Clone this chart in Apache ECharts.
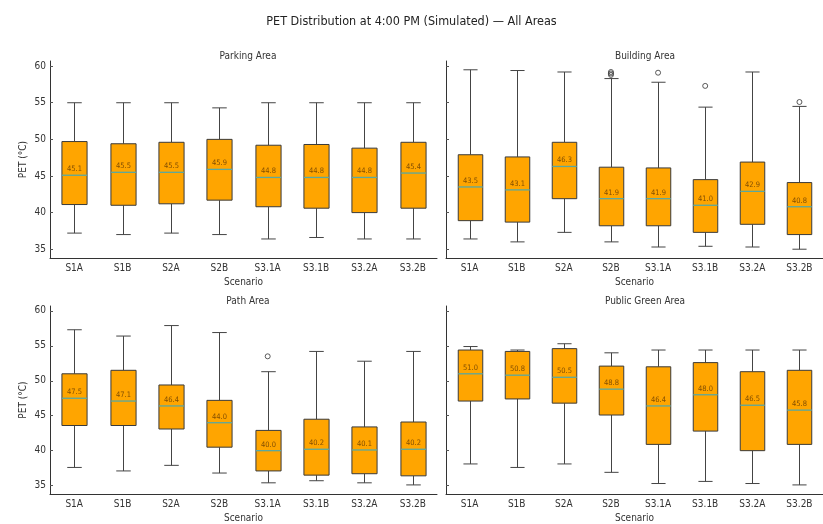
<!DOCTYPE html>
<html>
<head>
<meta charset="utf-8">
<script src="https://cdn.jsdelivr.net/npm/echarts@6/dist/echarts.min.js"></script>
<style>
html,body{margin:0;padding:0;background:#fff;}
#chart{width:823px;height:524px;}
</style>
</head>
<body>
<div id="chart"></div>
<script>
const categories = ['S1A','S1B','S2A','S2B','S3.1A','S3.1B','S3.2A','S3.2B'];
const yTicks = [35,40,45,50,55,60];

// [min, Q1, median, Q3, max] per scenario
const parkingStats = [
  [37.2, 41.1, 45.1, 49.7, 55.0],
  [37.0, 41.0, 45.5, 49.4, 55.0],
  [37.2, 41.2, 45.5, 49.6, 55.0],
  [37.0, 41.7, 45.9, 50.0, 54.3],
  [36.4, 40.8, 44.8, 49.2, 55.0],
  [36.6, 40.6, 44.8, 49.3, 55.0],
  [36.4, 40.0, 44.8, 48.8, 55.0],
  [36.4, 40.6, 45.4, 49.6, 55.0]
];
const buildingStats = [
  [36.4, 38.9, 43.5, 47.9, 59.5],
  [36.0, 38.7, 43.1, 47.6, 59.4],
  [37.3, 41.9, 46.3, 49.6, 59.2],
  [36.0, 38.2, 41.9, 46.2, 58.3],
  [35.3, 38.2, 41.9, 46.1, 57.8],
  [35.4, 37.3, 41.0, 44.5, 54.4],
  [35.3, 38.4, 42.9, 46.9, 59.2],
  [35.0, 37.0, 40.8, 44.1, 54.5]
];
const pathStats = [
  [37.6, 43.6, 47.5, 51.0, 57.3],
  [37.1, 43.6, 47.1, 51.5, 56.4],
  [37.9, 43.1, 46.4, 49.4, 57.9],
  [36.8, 40.5, 44.0, 47.2, 56.9],
  [35.4, 37.1, 40.0, 42.9, 51.3],
  [35.7, 36.5, 40.2, 44.5, 54.2],
  [35.4, 36.7, 40.1, 43.4, 52.8],
  [35.1, 36.4, 40.2, 44.1, 54.2]
];
const greenStats = [
  [38.1, 47.1, 51.0, 54.4, 54.9],
  [37.6, 47.4, 50.8, 54.2, 54.4],
  [38.1, 46.8, 50.5, 54.6, 55.3],
  [36.9, 45.1, 48.8, 52.1, 54.0],
  [35.3, 40.9, 46.4, 52.0, 54.4],
  [35.6, 42.8, 48.0, 52.6, 54.4],
  [35.3, 40.0, 46.5, 51.3, 54.4],
  [35.1, 40.9, 45.8, 51.5, 54.4]
];
// [scenario index, value]
const parkingOutliers = [];
const buildingOutliers = [[3, 58.8], [3, 59.0], [3, 59.2], [4, 59.1], [5, 57.3], [7, 55.1]];
const pathOutliers = [[4, 53.5]];
const greenOutliers = [];

const panelTitles = ['Parking Area', 'Building Area', 'Path Area', 'Public Green Area'];
const mainTitle = 'PET Distribution at 4:00 PM (Simulated) \u2014 All Areas';

const FONT = '"DejaVu Sans Condensed", "DejaVu Sans", sans-serif';
const TXT = '#333';
const Y_MIN = 33.8, Y_MAX = 60.7;

const grids = [
  {left: 50, top: 61, width: 387, height: 197},
  {left: 446, top: 61, width: 388, height: 197},
  {left: 50, top: 306, width: 387, height: 197},
  {left: 446, top: 306, width: 388, height: 197}
];
const titlePos = [
  {left: 243, top: 46}, {left: 640, top: 46}, {left: 243, top: 291}, {left: 640, top: 291}
];

function renderBox(params, api) {
  const i = api.value(0);
  const lo = api.coord([i, api.value(1)]);
  const q1 = api.coord([i, api.value(2)]);
  const med = api.coord([i, api.value(3)]);
  const q3 = api.coord([i, api.value(4)]);
  const hi = api.coord([i, api.value(5)]);
  const band = api.size([1, 0])[0];
  const bw = band * 0.52;
  const cw = band * 0.3;
  const cx = Math.round(lo[0]) + 0.5;
  const ln = {stroke: '#444', lineWidth: 1};
  return {
    type: 'group',
    children: [
      {type: 'line', shape: {x1: cx, y1: lo[1], x2: cx, y2: q1[1]}, style: ln},
      {type: 'line', shape: {x1: cx, y1: q3[1], x2: cx, y2: hi[1]}, style: ln},
      {type: 'line', shape: {x1: cx - cw / 2, y1: lo[1], x2: cx + cw / 2, y2: lo[1]}, style: ln},
      {type: 'line', shape: {x1: cx - cw / 2, y1: hi[1], x2: cx + cw / 2, y2: hi[1]}, style: ln},
      {type: 'rect', shape: {x: cx - bw / 2, y: q3[1], width: bw, height: q1[1] - q3[1]},
        style: {fill: '#FFA500', stroke: '#3a3a3a', lineWidth: 1}},
      {type: 'line', shape: {x1: cx - bw / 2, y1: med[1], x2: cx + bw / 2, y2: med[1]},
        style: {stroke: '#5aa89f', lineWidth: 1.3}},
      {type: 'text', style: {text: api.value(3).toFixed(1), x: cx, y: med[1] - 6,
        align: 'center', verticalAlign: 'middle', fontSize: 7.5, fontFamily: FONT,
        fill: 'rgba(110,65,0,0.85)'}}
    ]
  };
}

const allStats = [parkingStats, buildingStats, pathStats, greenStats];
const allOutliers = [parkingOutliers, buildingOutliers, pathOutliers, greenOutliers];

const option = {
  backgroundColor: '#fff',
  animation: false,
  title: [{text: mainTitle, left: 'center', top: 10,
    textStyle: {fontSize: 12.5, fontWeight: 'normal', color: '#222', fontFamily: FONT}}]
    .concat(panelTitles.map((t, k) => ({text: t, left: titlePos[k].left, top: titlePos[k].top,
      textAlign: 'center',
      textStyle: {fontSize: 10, fontWeight: 'normal', color: TXT, fontFamily: FONT}}))),
  grid: grids,
  xAxis: grids.map((g, k) => ({
    type: 'category', gridIndex: k, data: categories,
    name: 'Scenario', nameLocation: 'middle', nameGap: 19,
    nameTextStyle: {fontSize: 10, color: TXT, fontFamily: FONT},
    axisLine: {lineStyle: {color: '#333', width: 1}},
    axisTick: {inside: true, length: 3, alignWithLabel: true, lineStyle: {color: '#555'}},
    axisLabel: {fontSize: 10, color: TXT, fontFamily: FONT, margin: 5, interval: 0},
    splitLine: {show: false}
  })),
  yAxis: grids.map((g, k) => ({
    type: 'value', gridIndex: k, min: Y_MIN, max: Y_MAX,
    name: (k % 2 === 0) ? 'PET (\u00b0C)' : '', nameLocation: 'middle', nameGap: 22,
    nameTextStyle: {fontSize: 10, color: TXT, fontFamily: FONT},
    axisLine: {show: true, lineStyle: {color: '#333', width: 1}},
    axisTick: {show: true, inside: true, length: 3, customValues: yTicks, lineStyle: {color: '#555'}},
    axisLabel: {show: k % 2 === 0, customValues: yTicks, fontSize: 10, color: TXT, fontFamily: FONT, margin: 4},
    splitLine: {show: false}
  })),
  series: []
};

allStats.forEach((stats, k) => {
  option.series.push({
    type: 'custom', xAxisIndex: k, yAxisIndex: k,
    renderItem: renderBox,
    encode: {x: 0, y: [1, 2, 3, 4, 5]},
    data: stats.map((s, i) => [i].concat(s)),
    clip: false
  });
  option.series.push({
    type: 'scatter', xAxisIndex: k, yAxisIndex: k,
    symbol: 'circle', symbolSize: 5,
    itemStyle: {color: 'rgba(255,255,255,0)', borderColor: '#333', borderWidth: 1},
    data: allOutliers[k]
  });
});

const chart = echarts.init(document.getElementById('chart'), null, {renderer: 'canvas'});
chart.setOption(option);
</script>
</body>
</html>
